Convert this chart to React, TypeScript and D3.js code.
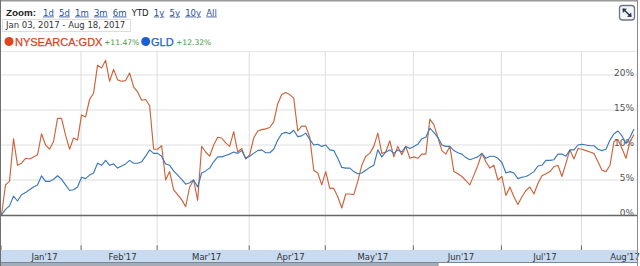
import React from "react";
import * as d3 from "d3";

const monthLabels = ["Jan'17", "Feb'17", "Mar'17", "Apr'17", "May'17", "Jun'17", "Jul'17", "Aug'17"];
const monthTradingDays = [20, 19, 23, 19, 22, 22, 20, 23];
const yTicks = [0, 5, 10, 15, 20];
const zoomLinks = ["1d", "5d", "1m", "3m", "6m", "YTD", "1y", "5y", "10y", "All"];
const activeZoom = "YTD";
const dateRange = "Jan 03, 2017 - Aug 18, 2017";
const seriesNames = ["NYSEARCA:GDX", "GLD"];
const seriesChange = ["+11.47%", "+12.32%"];

// percent change per trading day, Jan 03 .. Aug 18 2017
const gdx = [
  0, 4.3, 4.8, 10.9, 7.1, 7.4, 8.1, 8.0, 8.3, 8.6,
  11.6, 10.0, 9.4, 10.5, 13.8, 13.8, 11.4, 9.4, 11.0, 10.7,
  14.3, 14.0, 16.5, 17.4, 21.4, 21.0, 22.1, 19.1, 20.8, 19.3,
  19.1, 19.2, 20.3, 18.3, 17.6, 16.4, 16.5, 15.6, 9.4, 9.4,
  9.9, 5.0, 6.2, 3.6, 2.9, 2.2, 1.2, 4.0, 5.0, 2.1,
  9.8, 9.0, 8.4, 10.0, 11.1, 11.0, 10.3, 9.8, 11.9, 9.0,
  9.5, 8.0, 8.6, 11.0, 12.0, 12.2, 12.3, 12.5, 13.3, 15.9,
  17.2, 17.5, 17.2, 16.7, 12.0, 12.7, 12.7, 11.1, 6.4, 6.0,
  4.3, 6.2, 3.8, 3.8, 2.6, 1.0, 3.0, 3.0, 2.9, 4.8,
  7.1, 8.4, 8.8, 9.8, 11.7, 8.8, 9.0, 10.6, 8.3, 9.8,
  8.6, 9.8, 8.1, 8.3, 8.1, 8.7, 8.7, 13.7, 12.9, 11.1,
  9.2, 8.7, 9.8, 6.2, 5.9, 5.5, 4.9, 4.3, 5.7, 7.1,
  8.8, 7.6, 6.7, 7.1, 5.0, 5.5, 2.8, 4.0, 2.6, 1.5,
  2.6, 3.5, 4.0, 3.0, 4.5, 5.6, 5.9, 6.2, 6.9, 7.1,
  5.5, 7.4, 9.3, 8.0, 9.5, 9.4, 9.2, 9.0, 8.8, 7.6,
  6.4, 6.2, 7.1, 10.5, 10.8, 9.5, 8.1, 10.5, 11.5,
];

const gld = [
  0, 0.8, 1.3, 2.7, 2.0, 2.9, 3.2, 3.6, 4.0, 4.3,
  5.6, 4.8, 4.8, 5.1, 5.6, 5.1, 4.3, 3.5, 3.6, 4.0,
  5.4, 5.2, 5.7, 6.0, 7.4, 7.1, 7.8, 7.1, 7.3, 6.7,
  7.0, 7.3, 7.8, 7.4, 7.4, 7.6, 8.4, 9.3, 8.8, 8.8,
  8.4, 7.3, 7.1, 6.3, 5.7, 5.1, 4.4, 4.6, 5.0, 4.0,
  6.0, 6.3, 6.7, 7.6, 8.3, 8.3, 8.5, 8.7, 9.0, 8.8,
  9.2, 8.1, 8.4, 8.8, 9.2, 9.3, 8.9, 8.9, 9.4, 10.7,
  11.6, 11.8, 11.6, 12.1, 11.2, 11.3, 11.7, 10.8, 10.0, 10.1,
  9.8, 10.0, 9.3, 9.2, 8.1, 6.8, 6.7, 6.7, 6.2, 5.9,
  6.0, 6.4, 6.8, 7.1, 9.3, 8.3, 9.0, 9.3, 8.8, 9.3,
  9.0, 9.8, 9.5, 9.8, 10.1, 10.9, 11.1, 12.4, 11.8, 11.1,
  10.0, 9.8, 9.8, 9.2, 8.9, 8.7, 8.2, 7.9, 8.1, 8.3,
  8.8, 8.1, 8.4, 8.4, 8.1, 7.5, 6.0, 6.2, 6.0, 5.2,
  5.4, 5.5, 5.8, 6.2, 7.0, 7.1, 7.8, 7.8, 7.9, 8.7,
  8.7, 8.4, 9.3, 9.3, 10.0, 10.1, 10.0, 9.9, 9.9, 9.4,
  9.2, 9.4, 10.7, 11.6, 12.0, 11.3, 10.2, 11.1, 12.3,
];

const RED = "#c9653d";
const BLUE = "#3b78b8";

export default function App() {
  const W = 640;
  const H = 266;
  const plotTop = 51;
  const zeroY = 215;
  const plotRight = 637;
  const x = d3.scaleLinear().domain([0, gdx.length - 1]).range([1.5, 634]);
  const y = d3.scaleLinear().domain([0, 5]).range([zeroY, zeroY - 35]);
  const line = d3
    .line<number>()
    .x((_, i) => x(i))
    .y((d) => y(d));

  const starts: number[] = [];
  let acc = 0;
  monthTradingDays.forEach((d) => {
    starts.push(acc);
    acc += d;
  });
  const sans = "'Liberation Sans', Arial, sans-serif";
  const dv = "'DejaVu Sans', Verdana, sans-serif";

  return (
    <svg
      width={W}
      height={H}
      style={{ position: "absolute", left: 0, top: 0, background: "#fff" }}
    >
      <defs>
        <clipPath id="plotclip">
          <rect x={0} y={plotTop} width={plotRight} height={250 - plotTop} />
        </clipPath>
      </defs>
      <rect x={0} y={0} width={W} height={H} fill="#fff" />

      {/* header */}
      <text x={6} y={15.5} fontFamily={sans} fontWeight="bold" fontSize={9.8} fill="#222">
        Zoom:
      </text>
      <text x={43} y={15.5} fontFamily={dv} fontSize={8.5}>
        {zoomLinks.map((z, i) => (
          <tspan
            key={z}
            dx={i === 0 ? 0 : 5.2}
            fill={z === activeZoom ? "#222" : "#2a4f9e"}
            textDecoration={z === activeZoom ? "none" : "underline"}
          >
            {z}
          </tspan>
        ))}
      </text>
      <rect x={2.5} y={19.5} width={128} height={12} fill="#fff" stroke="#ddd" />
      <text x={6} y={28} fontFamily={dv} fontSize={8.5} fill="#333" style={{ whiteSpace: "pre" }}>
        {dateRange}
      </text>

      {/* legend */}
      <circle cx={9} cy={41.5} r={4.5} fill="#e2451d" />
      <text x={15} y={45.5} fontFamily={sans} fontSize={11} fill="#d8431c" stroke="#d8431c" strokeWidth={0.25}>
        {seriesNames[0]}
      </text>
      <text x={104} y={45} fontFamily={dv} fontSize={7.6} fill="#3f9a3f">
        {seriesChange[0]}
      </text>
      <circle cx={145.7} cy={41.5} r={4.5} fill="#1d5fd0" />
      <text x={151} y={45.5} fontFamily={sans} fontSize={11} fill="#2063c8" stroke="#2063c8" strokeWidth={0.25}>
        {seriesNames[1]}
      </text>
      <text x={176} y={45} fontFamily={dv} fontSize={7.6} fill="#3f9a3f">
        {seriesChange[1]}
      </text>

      {/* expand icon */}
      <rect x={619.5} y={5.5} width={15} height={14.5} rx={3} fill="#f4f6fa" stroke="#6c7688" strokeWidth={1.3} />
      <line x1={623} y1={9} x2={631} y2={16.5} stroke="#2b3548" strokeWidth={1.6} />
      <path d="M622.5,8.5 L627,8.8 L622.8,13 Z" fill="#2b3548" />
      <path d="M631.5,17 L627,16.7 L631.2,12.5 Z" fill="#2b3548" />

      {/* grid */}
      <line x1={0} x2={plotRight} y1={plotTop + 0.5} y2={plotTop + 0.5} stroke="#e6e6e6" />
      {yTicks
        .filter((t) => t > 0)
        .map((t) => (
          <line key={t} x1={0} x2={plotRight} y1={y(t)} y2={y(t)} stroke="#dedede" />
        ))}
      {starts.slice(1).map((s, i) => (
        <line key={i} x1={x(s) - 0.5} x2={x(s) - 0.5} y1={plotTop} y2={247} stroke="#dddddd" />
      ))}

      {/* y labels */}
      {yTicks.map((t) => (
        <text key={t} x={634} y={y(t) + 1} textAnchor="end" fontFamily={dv} fontSize={9} fill="#555">
          {t}%
        </text>
      ))}

      {/* series */}
      <g clipPath="url(#plotclip)">
        <path d={line(gdx) || ""} fill="none" stroke={RED} strokeWidth={1.15} strokeLinejoin="round" />
        <path d={line(gld) || ""} fill="none" stroke={BLUE} strokeWidth={1.15} strokeLinejoin="round" />
      </g>

      {/* zero line */}
      <line x1={0} x2={plotRight} y1={zeroY + 0.5} y2={zeroY + 0.5} stroke="#666" strokeWidth={1.4} />

      {/* bottom time band */}
      <rect x={0} y={250} width={plotRight} height={12} fill="#c8dbf1" />
      {starts.map((s, i) => (
        <line key={i} x1={x(s) - 0.5} x2={x(s) - 0.5} y1={245.5} y2={250} stroke="#666" strokeWidth={1} />
      ))}
      {monthLabels.map((m, i) => {
        const c = (x(starts[i]) + x(starts[i] + monthTradingDays[i])) / 2 + 3;
        return (
          <text
            key={m}
            x={Math.min(c, 625)}
            y={260.3}
            textAnchor="middle"
            fontFamily={dv}
            fontSize={8.5}
            fill="#333"
          >
            {m}
          </text>
        );
      })}
      <line x1={0} x2={plotRight} y1={262.5} y2={262.5} stroke="#7d8793" />
      <rect x={0} y={263} width={438} height={3} fill="#a3adba" />
      <rect x={438} y={263} width={plotRight - 438} height={3} fill="#fff" />
      <line x1={438} x2={438} y1={262} y2={266} stroke="#8a939e" />

      {/* frame */}
      <line x1={0} x2={plotRight + 0.5} y1={0.75} y2={0.75} stroke="#9a9a9a" strokeWidth={1.5} />
      <line x1={0.5} x2={0.5} y1={0} y2={H} stroke="#6f6f6f" />
      <line x1={plotRight + 0.5} x2={plotRight + 0.5} y1={0} y2={H} stroke="#8a8a8a" />
    </svg>
  );
}
